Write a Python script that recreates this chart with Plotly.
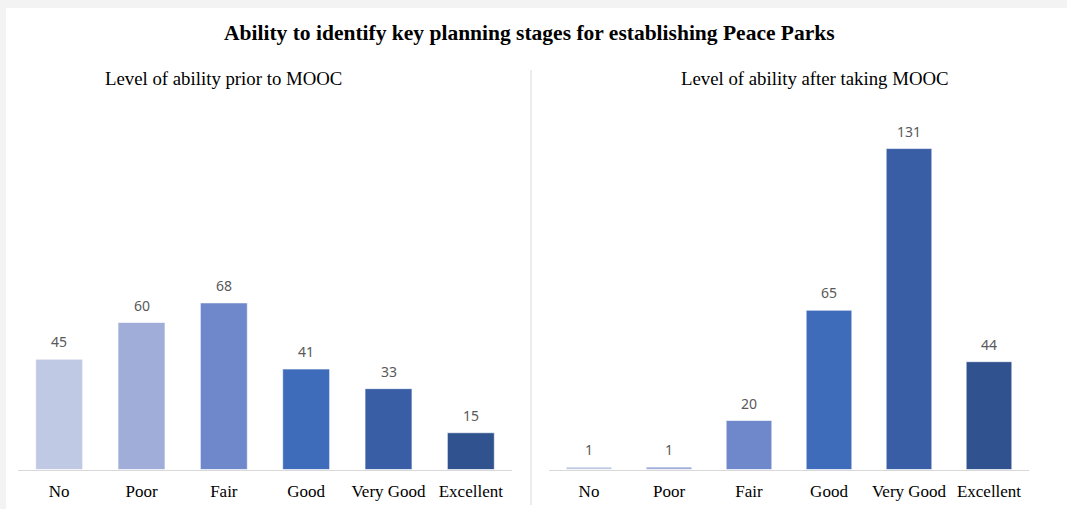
import plotly.graph_objects as go

categories = ["No", "Poor", "Fair", "Good", "Very Good", "Excellent"]
before_values = [45, 60, 68, 41, 33, 15]
after_values = [1, 1, 20, 65, 131, 44]
bar_colors = ["#BFC9E4", "#9FADD8", "#6E88CB", "#3E6CBB", "#3A5EA6", "#30528E"]

title_text = "Ability to identify key planning stages for establishing Peace Parks"
sub_left = "Level of ability prior to MOOC"
sub_right = "Level of ability after taking MOOC"

W, H = 1067, 509
def px(x):
    return x / W
def py(y):
    return 1 - y / H

fig = go.Figure()
fig.add_trace(go.Bar(x=categories, y=before_values, marker=dict(color=bar_colors, line=dict(color="rgba(255,255,255,0.6)", width=1)),
                     xaxis="x", yaxis="y", hoverinfo="x+y"))
fig.add_trace(go.Bar(x=categories, y=after_values, marker=dict(color=bar_colors, line=dict(color="rgba(255,255,255,0.6)", width=1)),
                     xaxis="x2", yaxis="y2", hoverinfo="x+y"))

ymax = (469.5 - 120) / 2.45
ydom = [py(469.5), py(120)]
axis_common = dict(showgrid=False, zeroline=False, showline=True, linecolor="#D9D9D9", linewidth=1,
                   ticks="", tickfont=dict(family="Liberation Serif, serif", size=17, color="#000000"),
                   ticklabelstandoff=6, fixedrange=True)
yaxis_common = dict(range=[0, ymax], domain=ydom, showgrid=False, zeroline=False, showline=False,
                    showticklabels=False, fixedrange=True)

annotations = []
for xref, yref, vals in (("x", "y", before_values), ("x2", "y2", after_values)):
    for c, v in zip(categories, vals):
        annotations.append(dict(x=c, y=v, xref=xref, yref=yref, text=str(v), showarrow=False,
                                yanchor="bottom", yshift=6,
                                font=dict(family="Noto Sans, sans-serif", size=14, color="#595959")))

annotations.append(dict(x=px(529), y=py(33), xref="paper", yref="paper", text="<b>" + title_text + "</b>",
                        showarrow=False, xanchor="center", yanchor="middle",
                        font=dict(family="Liberation Serif, serif", size=21.5, color="#000000")))
annotations.append(dict(x=px(223), y=py(78), xref="paper", yref="paper", text=sub_left,
                        showarrow=False, xanchor="center", yanchor="middle",
                        font=dict(family="Liberation Serif, serif", size=18.8, color="#000000")))
annotations.append(dict(x=px(815), y=py(78), xref="paper", yref="paper", text=sub_right,
                        showarrow=False, xanchor="center", yanchor="middle",
                        font=dict(family="Liberation Serif, serif", size=18.8, color="#000000")))

shapes = [
    dict(type="rect", xref="paper", yref="paper", x0=px(6), x1=1, y0=0, y1=py(8),
         fillcolor="#FFFFFF", line=dict(width=0), layer="below"),
    dict(type="line", xref="paper", yref="paper", x0=px(531), x1=px(531), y0=py(70), y1=py(505),
         line=dict(color="#D9D9D9", width=1)),
]

fig.update_layout(
    width=W, height=H,
    margin=dict(l=0, r=0, t=0, b=0),
    paper_bgcolor="#F3F3F3",
    plot_bgcolor="rgba(0,0,0,0)",
    showlegend=False,
    bargap=0.43,
    xaxis=dict(domain=[px(18), px(512)], anchor="y", **axis_common),
    yaxis=dict(anchor="x", **yaxis_common),
    xaxis2=dict(domain=[px(549), px(1029)], anchor="y2", **axis_common),
    yaxis2=dict(anchor="x2", **yaxis_common),
    annotations=annotations,
    shapes=shapes,
)

fig.write_html("out.html", config={"displayModeBar": False},
               post_script="document.body.style.margin='0px';document.body.style.overflow='hidden';document.body.style.background='#F3F3F3';")
